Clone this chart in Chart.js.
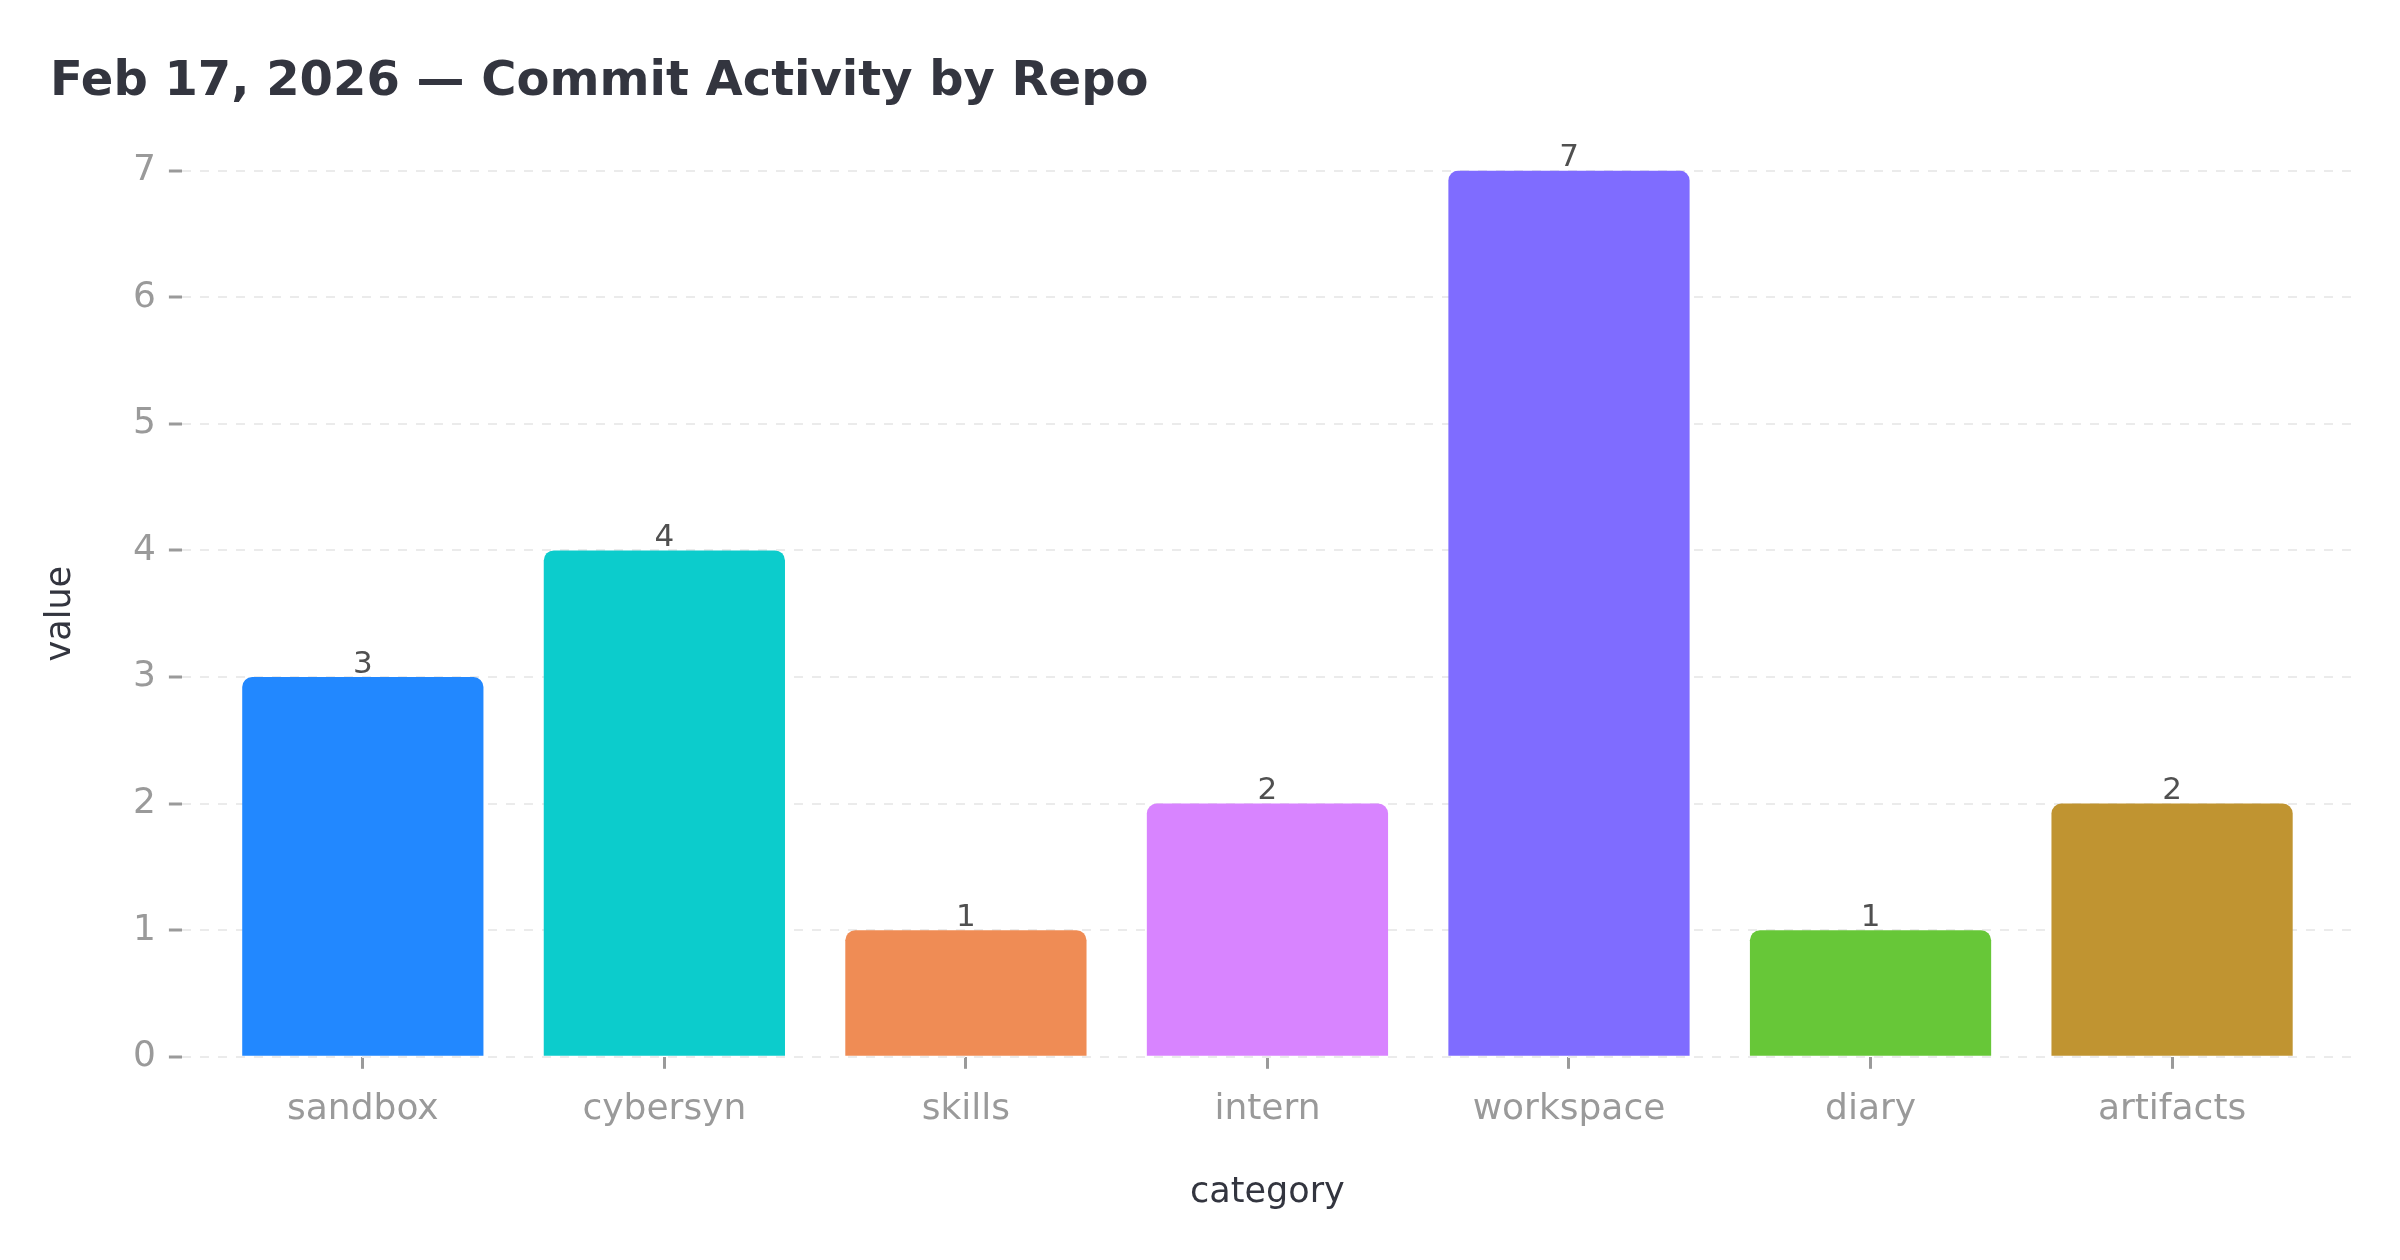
<!DOCTYPE html>
<html>
<head>
<meta charset="utf-8">
<title>Commit Activity by Repo</title>
<script src="https://cdn.jsdelivr.net/npm/chart.js@4"></script>
<style>
    html, body { margin: 0; padding: 0; background: #ffffff; }
    #grafica { display: block; }
</style>
</head>
<body>
<canvas id="grafica" width="2400" height="1260"></canvas>
<script>
// datos del grafico
const repos = ['sandbox', 'cybersyn', 'skills', 'intern', 'workspace', 'diary', 'artifacts'];
const commits = [3, 4, 1, 2, 7, 1, 2];
const coloresBarras = ['#2288FF', '#0CCCCC', '#EF8C55', '#D884FF', '#7F6CFF', '#67C738', '#C09431'];
const yTicks = [0, 1, 2, 3, 4, 5, 6, 7];

const fuente = "'DejaVu Sans', 'Noto Sans', sans-serif";

// etiquetas con el valor encima de cada barra
const etiquetasValor = {
    id: 'etiquetasValor',
    afterDatasetsDraw(chart) {
        const ctx = chart.ctx;
        const meta = chart.getDatasetMeta(0);
        ctx.save();
        ctx.font = '31px ' + fuente;
        ctx.fillStyle = '#505050';
        ctx.textAlign = 'center';
        ctx.textBaseline = 'bottom';
        meta.data.forEach((bar, i) => {
            ctx.fillText(String(commits[i]), bar.x, bar.y + 3);
        });
        ctx.restore();
    }
};

const ctx = document.getElementById('grafica').getContext('2d');
new Chart(ctx, {
    type: 'bar',
    data: {
        datasets: [{
            label: 'value',
            data: repos.map((r, i) => ({ x: i, y: commits[i] })),
            backgroundColor: coloresBarras,
            borderWidth: 0,
            borderRadius: 10,
            borderSkipped: 'bottom',
            barPercentage: 0.8,
            categoryPercentage: 1.0
        }]
    },
    options: {
        responsive: false,
        animation: false,
        devicePixelRatio: 1,
        layout: {
            padding: { left: 50, right: 47, top: 0, bottom: 0 }
        },
        plugins: {
            legend: { display: false },
            tooltip: { enabled: false },
            title: {
                display: true,
                text: 'Feb 17, 2026 — Commit Activity by Repo',
                align: 'start',
                color: '#33353F',
                font: { family: fuente, size: 48, weight: 'bold', lineHeight: 1.2 },
                padding: { top: 54, bottom: 59 }
            }
        },
        scales: {
            x: {
                type: 'linear',
                min: -0.6,
                max: 6.6,
                offset: false,
                border: { display: false },
                grid: {
                    offset: false,
                    drawOnChartArea: false,
                    drawTicks: true,
                    tickLength: 12,
                    tickWidth: 3,
                    tickColor: '#9A9A9A'
                },
                ticks: {
                    stepSize: 1,
                    includeBounds: false,
                    autoSkip: false,
                    maxRotation: 0,
                    padding: 19,
                    color: '#9A9A9A',
                    font: { family: fuente, size: 36 },
                    callback: (v) => repos[v] !== undefined ? repos[v] : ''
                },
                title: {
                    display: true,
                    text: 'category',
                    color: '#33353F',
                    font: { family: fuente, size: 35 },
                    padding: { top: 22, bottom: 46 }
                }
            },
            y: {
                min: yTicks[0],
                max: yTicks[yTicks.length - 1],
                border: { display: false, dash: [9, 9] },
                grid: {
                    color: '#EBEBEB',
                    lineWidth: 2,
                    drawTicks: true,
                    tickLength: 13,
                    tickWidth: 3,
                    tickColor: '#9A9A9A'
                },
                ticks: {
                    stepSize: 1,
                    padding: 13,
                    color: '#9A9A9A',
                    font: { family: fuente, size: 36 }
                },
                title: {
                    display: true,
                    text: 'value',
                    color: '#33353F',
                    font: { family: fuente, size: 35, lineHeight: 0.6 },
                    padding: { top: 0, bottom: 49 }
                }
            }
        }
    },
    plugins: [etiquetasValor]
});
</script>
</body>
</html>
